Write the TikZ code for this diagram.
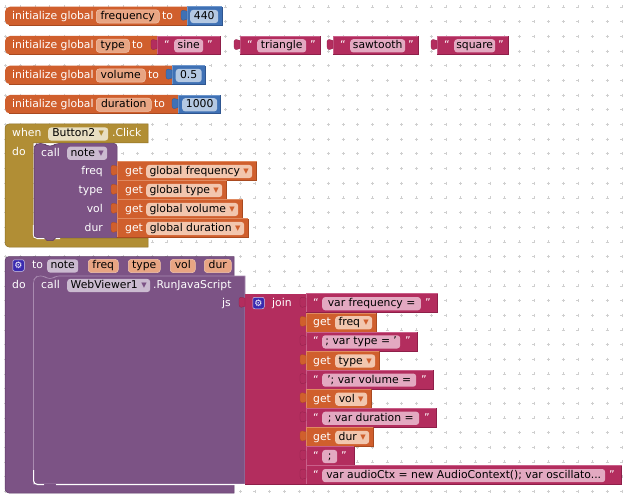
\documentclass[tikz,border=0pt]{standalone}
\usepackage{fontspec}
\usepackage{xcolor}
\setmainfont{DejaVu Sans}
\definecolor{varcol}{HTML}{D05F2D}
\definecolor{vardark}{HTML}{A94A20}
\definecolor{varlight}{HTML}{E08A60}
\definecolor{varpillcol}{HTML}{E8A583}
\definecolor{varddcol}{HTML}{F2C6AE}
\definecolor{numcol}{HTML}{3F71B5}
\definecolor{numdark}{HTML}{2F5690}
\definecolor{numlight}{HTML}{6F97CC}
\definecolor{numpillcol}{HTML}{B4C8E2}
\definecolor{txtcol}{HTML}{B32D5E}
\definecolor{txtdark}{HTML}{8E1F49}
\definecolor{txtlight}{HTML}{C9608A}
\definecolor{txtpillcol}{HTML}{E3A9C1}
\definecolor{proccol}{HTML}{7C5385}
\definecolor{procdark}{HTML}{5E3C67}
\definecolor{proclight}{HTML}{A98BB0}
\definecolor{procpillcol}{HTML}{CBBBD0}
\definecolor{ctrlcol}{HTML}{B18E35}
\definecolor{ctrldark}{HTML}{8E7026}
\definecolor{ctrllight}{HTML}{CDB06A}
\definecolor{ctrlpillcol}{HTML}{E8DFC2}
\definecolor{gearcol}{HTML}{3A2BB0}
\definecolor{gridcol}{HTML}{CFCFCF}
\tikzstyle{word} = [anchor=west, inner sep=0pt, text=white, text height=8.2pt, text depth=2.2pt, yshift=-0.5pt]
\tikzstyle{pill} = [anchor=west, inner xsep=0pt, inner ysep=1.4pt, text=black, rounded corners=3pt, text height=8.2pt, text depth=2.2pt, align=center, yshift=-0.5pt]
\tikzstyle{varpill} = [pill, fill=varpillcol, draw=varddcol, line width=0.5pt]
\tikzstyle{ddpill} = [pill, fill=varddcol]
\tikzstyle{numpill} = [pill, fill=numpillcol]
\tikzstyle{txtpill} = [pill, fill=txtpillcol]
\tikzstyle{procpill} = [pill, fill=procpillcol]
\tikzstyle{ctrlpill} = [pill, fill=ctrlpillcol]
\tikzstyle{gear} = [rectangle, fill=gearcol, draw=white!75!gearcol, rounded corners=2pt, line width=0.5pt, text=white, inner sep=0pt, minimum size=11.5pt, font=\fontsize{9}{9}\selectfont]
% body of a square block: prefix of the colour, then its two corners
\newcommand{\brick}[5]{%
  \fill [#1col] (#2,#3) rectangle (#4,#5);
  \draw [#1light, line width=0.5pt] (#2,#5) -- (#2,#3) -- (#4,#3);
  \draw [#1dark, line width=0.7pt] (#2,#5) -- (#4,#5) -- (#4,#3);
}
% same, with the left side rounded
\newcommand{\roundbrick}[5]{%
  \fill [#1col, rounded corners=5pt] (#4,#3) [sharp corners] -- (#4,#5) [rounded corners=5pt] -- (#2,#5) -- (#2,#3) [sharp corners] -- cycle;
  \draw [#1dark, line width=0.7pt] (#2+4,#5) -- (#4,#5) -- (#4,#3);
}
% plug on the left edge of a block
\newcommand{\plug}[3]{%
  \filldraw [fill=#1col, draw=#1dark, line width=0.25pt] (#2,#3+4.5) .. controls (#2-2,#3+3) and (#2-6,#3+3) .. (#2-6,#3+5.5) -- (#2-6,#3+11) .. controls (#2-6,#3+14.5) and (#2-2,#3+14) .. (#2,#3+12.5) -- cycle;
}
\newcommand{\ddv}{\textcolor{varcol}{▾}}
\newcommand{\ddp}{\textcolor{proccol}{▾}}

\begin{document}
\begin{tikzpicture}[x=1pt, y=-1pt, font=\fontsize{10.8}{12}\selectfont]
        \useasboundingbox [fill=white] (0,0) rectangle (627,500);
        % Workspace grid
        \foreach \gx in {0,...,42} {
            \foreach \gy in {0,...,33} {
                \draw [gridcol, line width=0.4pt] (5.6+14.67*\gx-1.5,7+14.67*\gy) -- ++(3,0) (5.6+14.67*\gx,7+14.67*\gy-1.5) -- ++(0,3);
            }
        }
        % Global variables
        \roundbrick{var}{5}{6.7}{187}{25.3}
        \brick{num}{187}{6.7}{222}{25.3}
        \plug{num}{187}{6.7}
        \node [word] (initfreq) at (12,16) {initialize global};
        \node [varpill, minimum width=63pt] (freqname) at (96,16) {frequency};
        \node [word] (tofreq) at (162,16) {to};
        \node [numpill, minimum width=28pt] (freqval) at (190,16) {440};

        \roundbrick{var}{5}{36}{157}{54.6}
        \brick{txt}{157}{36}{220}{54.6}
        \plug{txt}{157}{36}
        \node [word] (inittype) at (12,45.3) {initialize global};
        \node [varpill, minimum width=33pt] (typename) at (96,45.3) {type};
        \node [word] (totype) at (132,45.3) {to};
        \node [word] (sineq) at (164,45.3) {“};
        \node [txtpill, minimum width=29pt] (sineval) at (174,45.3) {sine};
        \node [word] (sineqq) at (207,45.3) {”};

        \brick{txt}{240}{36}{320}{54.6}
        \plug{txt}{240}{36}
        \node [word] (triq) at (247,45.3) {“};
        \node [txtpill, minimum width=49pt] (trival) at (257,45.3) {triangle};
        \node [word] (triqq) at (310,45.3) {”};

        \brick{txt}{333}{36}{418}{54.6}
        \plug{txt}{333}{36}
        \node [word] (sawq) at (340,45.3) {“};
        \node [txtpill, minimum width=55pt] (sawval) at (350,45.3) {sawtooth};
        \node [word] (sawqq) at (408,45.3) {”};

        \brick{txt}{437}{36}{508}{54.6}
        \plug{txt}{437}{36}
        \node [word] (squq) at (444,45.3) {“};
        \node [txtpill, minimum width=41pt] (squval) at (454,45.3) {square};
        \node [word] (squqq) at (498,45.3) {”};

        \roundbrick{var}{5}{65.6}{172}{84.2}
        \brick{num}{172}{65.6}{205}{84.2}
        \plug{num}{172}{65.6}
        \node [word] (initvol) at (12,75) {initialize global};
        \node [varpill, minimum width=49pt] (volname) at (96,75) {volume};
        \node [word] (tovol) at (148,75) {to};
        \node [numpill, minimum width=26pt] (volval) at (175.5,75) {0.5};

        \roundbrick{var}{5}{95}{178}{113.6}
        \brick{num}{178}{95}{220}{113.6}
        \plug{num}{178}{95}
        \node [word] (initdur) at (12,104.3) {initialize global};
        \node [varpill, minimum width=55pt] (durname) at (96,104.3) {duration};
        \node [word] (todur) at (154,104.3) {to};
        \node [numpill, minimum width=35pt] (durval) at (182,104.3) {1000};

        % Button event
        \filldraw [fill=ctrlcol, draw=ctrldark, line width=0.5pt, rounded corners=4pt] (5,247) -- (5,124) [sharp corners] -- (148,124) -- (148,143) -- (33,143) -- (33,238) -- (148,238) -- (148,247) [rounded corners=4pt] -- cycle;
        \node [word] (when) at (12,133.5) {when};
        \node [ctrlpill, minimum width=60pt] (button) at (48,133.5) {Button2 \textcolor{ctrlcol}{▾}};
        \node [word] (click) at (112,133.5) {.Click};
        \node [word] (evdo) at (12,152.5) {do};
        \draw [white, line width=1.2pt, rounded corners=4pt] (33.5,225) -- (33.5,238.5) -- (60,238.5);
        \filldraw [fill=proccol, draw=procdark, line width=0.5pt, rounded corners=3pt] (34,147) -- (37,143.5) -- (44,143.5) -- (47,146) -- (53,146) -- (56,143.5) -- (117,143.5) [sharp corners] -- (117,237.5) -- (56,237.5) -- (53,240.5) -- (47,240.5) -- (44,237.5) -- (38,237.5) [rounded corners=3pt] -- (34,237.5) -- cycle;
        \node [word] (evcall) at (41,152.8) {call};
        \node [procpill, minimum width=40pt] (evnote) at (67,152.8) {note \ddp};
        \brick{var}{117}{161.7}{256.5}{180.7}
        \brick{var}{117}{180.7}{226.5}{199.7}
        \brick{var}{117}{199.7}{242.7}{218.7}
        \brick{var}{117}{218.7}{248.3}{237.5}
        \plug{var}{117}{161.7}
        \plug{var}{117}{180.7}
        \plug{var}{117}{199.7}
        \plug{var}{117}{218.7}
        \node [word, anchor=east] (argfreq) at (103,171) {freq};
        \node [word, anchor=east] (argtype) at (103,190) {type};
        \node [word, anchor=east] (argvol) at (103,209) {vol};
        \node [word, anchor=east] (argdur) at (103,228) {dur};
        \node [word] (getfreq) at (125,171) {get};
        \node [ddpill, minimum width=106pt] (globfreq) at (146,171) {global frequency \ddv};
        \node [word] (gettype) at (125,190) {get};
        \node [ddpill, minimum width=76pt] (globtype) at (146,190) {global type \ddv};
        \node [word] (getvol) at (125,209) {get};
        \node [ddpill, minimum width=92pt] (globvol) at (146,209) {global volume \ddv};
        \node [word] (getdur) at (125,228) {get};
        \node [ddpill, minimum width=98pt] (globdur) at (146,228) {global duration \ddv};

        % Procedure definition
        \filldraw [fill=proccol, draw=procdark, line width=0.5pt, rounded corners=4pt] (5,493) -- (5,256.5) [sharp corners] -- (234,256.5) -- (234,493) [rounded corners=4pt] -- cycle;
        \node [gear] (procgear) at (18.5,265.5) {⚙};
        \node [word] (procto) at (32,265.5) {to};
        \node [procpill, minimum width=31pt] (procname) at (47,265.5) {note};
        \node [varpill, minimum width=30pt] (parfreq) at (88,265.5) {freq};
        \node [varpill, minimum width=32pt] (partype) at (128,265.5) {type};
        \node [varpill, minimum width=25pt] (parvol) at (170,265.5) {vol};
        \node [varpill, minimum width=27pt] (pardur) at (204,265.5) {dur};
        \node [word] (procdo) at (12,284.5) {do};
        \filldraw [fill=proccol, draw=proclight, line width=0.6pt, rounded corners=3pt] (33.5,484) -- (33.5,280) -- (37,276) -- (44,276) -- (47,278.5) -- (53,278.5) -- (56,276) [sharp corners] -- (245,276) -- (245,484) -- cycle;
        \draw [white, line width=1pt, rounded corners=4pt] (33.5,470) -- (33.5,484.5) -- (44,484.5) (56,484.5) -- (245,484.5);
        \fill [proccol] (44,484) -- (47,487) -- (53,487) -- (56,484) -- cycle;
        \node [word] (wvcall) at (41,285) {call};
        \node [procpill, minimum width=83pt] (webview) at (67,285) {WebViewer1 \ddp};
        \node [word] (runjs) at (153,285) {.RunJavaScript};
        \node [word, anchor=east] (argjs) at (231,303) {js};

        % Text join
        \fill [txtcol] (245,293.7) rectangle (306,484.7);
        \draw [txtdark, line width=0.5pt] (245,484.7) -- (306,484.7);
        \plug{txt}{245}{293.7}
        \node [gear] (joingear) at (258.5,303) {⚙};
        \node [word] (join) at (272,303) {join};

        \brick{txt}{306}{293.7}{437.7}{312.8}
        \plug{txt}{306}{293.7}
        \node [word] (strq) at (313,303.2) {“};
        \node [txtpill, minimum width=98.7pt] (strfreq) at (322,303.2) {var frequency =};
        \node [word] (strqq) at (425,303.2) {”};

        \brick{var}{306}{312.8}{376.7}{331.9}
        \plug{var}{306}{312.8}
        \node [word] (jgetfreq) at (313,322.3) {get};
        \node [ddpill, minimum width=37pt] (jfreq) at (335,322.3) {freq \ddv};

        \brick{txt}{306}{331.9}{417.7}{351}
        \plug{txt}{306}{331.9}
        \node [word] (strtq) at (313,341.4) {“};
        \node [txtpill, minimum width=78pt] (strtype) at (322,341.4) {; var type = '};
        \node [word] (strtqq) at (405,341.4) {”};

        \brick{var}{306}{351}{379}{370.1}
        \plug{var}{306}{351}
        \node [word] (jgettype) at (313,360.5) {get};
        \node [ddpill, minimum width=40pt] (jtype) at (335,360.5) {type \ddv};

        \brick{txt}{306}{370.1}{433}{389.2}
        \plug{txt}{306}{370.1}
        \node [word] (strvq) at (313,379.6) {“};
        \node [txtpill, minimum width=94pt] (strvol) at (322,379.6) {'; var volume =};
        \node [word] (strvqq) at (421,379.6) {”};

        \brick{var}{306}{389.2}{371}{408.3}
        \plug{var}{306}{389.2}
        \node [word] (jgetvol) at (313,398.7) {get};
        \node [ddpill, minimum width=32pt] (jvol) at (335,398.7) {vol \ddv};

        \brick{txt}{306}{408.3}{436}{427.4}
        \plug{txt}{306}{408.3}
        \node [word] (strdq) at (313,417.8) {“};
        \node [txtpill, minimum width=97pt] (strdur) at (322,417.8) {; var duration =};
        \node [word] (strdqq) at (424,417.8) {”};

        \brick{var}{306}{427.4}{373}{446.5}
        \plug{var}{306}{427.4}
        \node [word] (jgetdur) at (313,436.9) {get};
        \node [ddpill, minimum width=34pt] (jdur) at (335,436.9) {dur \ddv};

        \brick{txt}{306}{446.5}{354}{465.6}
        \plug{txt}{306}{446.5}
        \node [word] (strsq) at (313,456) {“};
        \node [txtpill, minimum width=15pt] (strsemi) at (322,456) {;};
        \node [word] (strsqq) at (341,456) {”};

        \brick{txt}{306}{465.6}{621.7}{484.7}
        \plug{txt}{306}{465.6}
        \node [word] (straq) at (313,475.1) {“};
        \node [txtpill, minimum width=283pt] (straudio) at (322,475.1) {var audioCtx = new AudioContext(); var oscillato...};
        \node [word] (straqq) at (609,475.1) {”};
    \end{tikzpicture}
\end{document}
